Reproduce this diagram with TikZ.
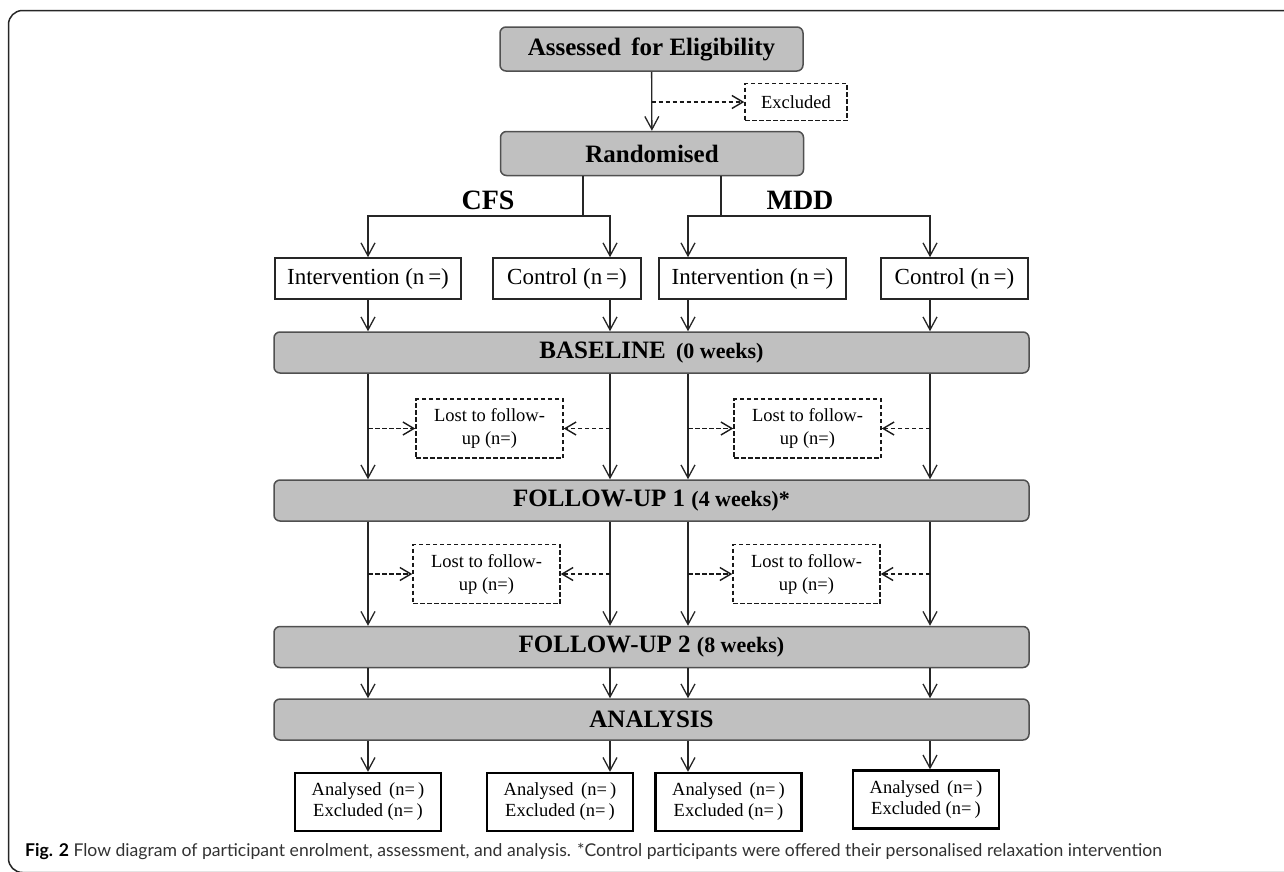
\documentclass[tikz,border=0pt]{standalone}
\usepackage{fontspec}
\setmainfont{Liberation Serif}
\newfontfamily\capfont{Lato}
\usetikzlibrary{arrows.meta}
\definecolor{boxgray}{RGB}{192,192,192}
\definecolor{edgegray}{RGB}{80,80,80}
\definecolor{capgray}{RGB}{50,50,50}
\tikzset{
  graybox/.style={draw=edgegray, line width=1.5pt, fill=boxgray, rounded corners=6pt,
    minimum width=755pt, minimum height=41pt, inner sep=0pt, font=\fontsize{25}{28}\selectfont\bfseries},
  topbox/.style={graybox, minimum width=303pt, minimum height=44pt},
  armbox/.style={draw=black!85, line width=1.6pt, fill=white, minimum height=41pt, inner sep=0pt,
    font=\fontsize{23}{26}\selectfont},
  lostbox/.style={draw=black!90, line width=1.5pt, dash pattern=on 4.5pt off 2.5pt, minimum width=147pt,
    minimum height=59pt, inner sep=0pt, align=center, font=\fontsize{18.5}{23}\selectfont},
  resbox/.style={draw=black, line width=2.3pt, minimum width=146pt, minimum height=58pt, inner sep=0pt,
    align=center, font=\fontsize{18.5}{21}\selectfont},
  arm/.style={font=\fontsize{28}{32}\selectfont\bfseries},
  ln/.style={line width=1.3pt, draw=black!85},
  arr/.style={ln, -{Straight Barb[length=13pt,width=14pt,line width=1.3pt]}},
  darr/.style={ln, line width=1.5pt, draw=black!90, dash pattern=on 4.5pt off 2.5pt,
    -{Straight Barb[length=11pt,width=13pt,line width=1.4pt]}},
}
\newcommand{\wks}[1]{{\fontsize{22}{26}\selectfont #1}}

\begin{document}
\begin{tikzpicture}[x=1pt, y=-1pt]
  \useasboundingbox (0,0) rectangle (1284,871);
  %frame
  \draw[line width=1.5pt, black!85, rounded corners=14pt] (1290,10.5) -- (8.5,10.5) -- (8.5,872.5) -- (1290,872.5);
  %columns of the four arms
  \coordinate (c1) at (368,0);
  \coordinate (c2) at (610,0);
  \coordinate (c3) at (688,0);
  \coordinate (c4) at (930,0);
  \coordinate (cfsj) at (583,216);
  \coordinate (mddj) at (721,216);
  %enrolment
  \node[topbox] (elig) at (651.5,49) {Assessed\, for Eligibility};
  \node[draw=black!90, line width=1.5pt, dash pattern=on 4.5pt off 2.5pt, minimum width=102pt, minimum height=37pt,
    inner sep=0pt, font=\fontsize{18.5}{22}\selectfont] (excl) at (796,102) {Excluded};
  \node[topbox] (rand) at (652,153.5) {Randomised};
  \node[arm] (cfs) at (488,200) {CFS};
  \node[arm] (mdd) at (800,200) {MDD};
  \node[armbox, minimum width=186pt] (int1) at (368,278.5) {Intervention (n\,=)};
  \node[armbox, minimum width=148pt] (con1) at (567,278.5) {Control (n\,=)};
  \node[armbox, minimum width=187pt] (int2) at (752.5,278.5) {Intervention (n\,=)};
  \node[armbox, minimum width=147pt] (con2) at (954.5,278.5) {Control (n\,=)};
  %stages
  \node[graybox] (base) at (651.5,352.5) {BASELINE\hspace{4pt} \wks{(0 weeks)}};
  \node[lostbox] (lost1) at (489.5,428.5) {Lost to follow-\\up (n=)};
  \node[lostbox] (lost2) at (807.5,428.5) {Lost to follow-\\up (n=)};
  \node[graybox] (fu1) at (651.5,500.5) {FOLLOW-UP 1 \wks{(4 weeks)*}};
  \node[lostbox] (lost3) at (486.5,574) {Lost to follow-\\up (n=)};
  \node[lostbox] (lost4) at (806.5,574) {Lost to follow-\\up (n=)};
  \node[graybox] (fu2) at (651.5,647) {FOLLOW-UP 2 \wks{(8 weeks)}};
  \node[graybox] (anal) at (651.5,719.5) {ANALYSIS};
  \node[resbox] (res1) at (368,802) {Analysed\, (n=\,)\\Excluded (n=\,)};
  \node[resbox] (res2) at (560,802) {Analysed\, (n=\,)\\Excluded (n=\,)};
  \node[resbox] (res3) at (728.5,802) {Analysed\, (n=\,)\\Excluded (n=\,)};
  \node[resbox] (res4) at (926,799.5) {Analysed\, (n=\,)\\Excluded (n=\,)};
  %caption
  \node[anchor=west, inner sep=0pt, text=capgray, font=\capfont\fontsize{17.6}{21}\selectfont] (cap) at (25,851)
    {\textcolor{black}{\bfseries Fig. 2} Flow diagram of participant enrolment, assessment, and analysis. *Control participants were offered their personalised relaxation intervention};
  %enrolment connectors
  \draw[arr] (elig) -- (rand);
  \draw[darr] (elig.south |- excl) -- (excl);
  \draw[ln] (cfsj |- rand.south) -- (cfsj);
  \draw[ln] (mddj |- rand.south) -- (mddj);
  \draw[arr] (cfsj) -| (int1);
  \draw[arr] (cfsj) -| (c2 |- con1.north);
  \draw[arr] (mddj) -| (c3 |- int2.north);
  \draw[arr] (mddj) -| (c4 |- con2.north);
  %arms into baseline
  \draw[arr] (int1) -- (base.north -| c1);
  \draw[arr] (c2 |- con1.south) -- (base.north -| c2);
  \draw[arr] (c3 |- int2.south) -- (base.north -| c3);
  \draw[arr] (c4 |- con2.south) -- (base.north -| c4);
  %baseline to follow-up 1
  \draw[arr] (base.south -| c1) -- (fu1.north -| c1);
  \draw[arr] (base.south -| c2) -- (fu1.north -| c2);
  \draw[arr] (base.south -| c3) -- (fu1.north -| c3);
  \draw[arr] (base.south -| c4) -- (fu1.north -| c4);
  \draw[darr] (c1 |- lost1) -- (lost1);
  \draw[darr] (c2 |- lost1) -- (lost1);
  \draw[darr] (c3 |- lost2) -- (lost2);
  \draw[darr] (c4 |- lost2) -- (lost2);
  %follow-up 1 to follow-up 2
  \draw[arr] (fu1.south -| c1) -- (fu2.north -| c1);
  \draw[arr] (fu1.south -| c2) -- (fu2.north -| c2);
  \draw[arr] (fu1.south -| c3) -- (fu2.north -| c3);
  \draw[arr] (fu1.south -| c4) -- (fu2.north -| c4);
  \draw[darr] (c1 |- lost3) -- (lost3);
  \draw[darr] (c2 |- lost3) -- (lost3);
  \draw[darr] (c3 |- lost4) -- (lost4);
  \draw[darr] (c4 |- lost4) -- (lost4);
  %analysis
  \draw[arr] (fu2.south -| c1) -- (anal.north -| c1);
  \draw[arr] (fu2.south -| c2) -- (anal.north -| c2);
  \draw[arr] (fu2.south -| c3) -- (anal.north -| c3);
  \draw[arr] (fu2.south -| c4) -- (anal.north -| c4);
  \draw[arr] (anal.south -| c1) -- (res1);
  \draw[arr] (anal.south -| c2) -- (c2 |- res2.north);
  \draw[arr] (anal.south -| c3) -- (c3 |- res3.north);
  \draw[arr] (anal.south -| c4) -- (c4 |- res4.north);
\end{tikzpicture}
\end{document}
